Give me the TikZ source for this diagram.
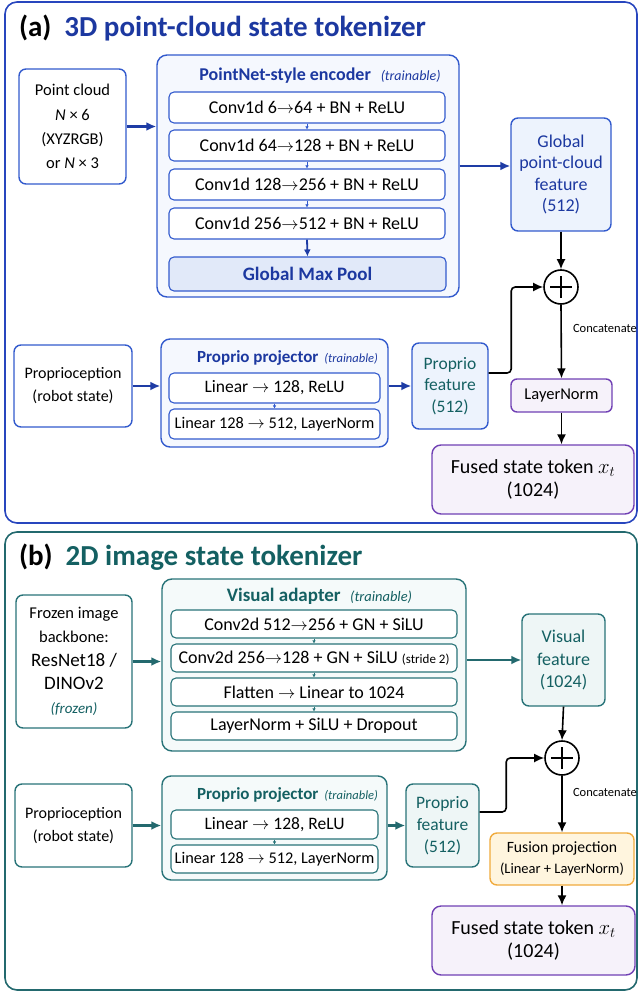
\documentclass[tikz,border=0pt]{standalone}
\usepackage{fontspec}
\setmainfont{Carlito}
\usetikzlibrary{arrows.meta}
\definecolor{bluetx}{RGB}{28,56,160}
\definecolor{bluebd}{RGB}{50,90,205}
\definecolor{bluear}{RGB}{30,60,165}
\definecolor{bluefr}{RGB}{40,70,190}
\definecolor{bluefl}{RGB}{245,248,254}
\definecolor{bluefl2}{RGB}{237,243,253}
\definecolor{bluepl}{RGB}{225,233,249}
\definecolor{tealtx}{RGB}{20,96,98}
\definecolor{tealbd}{RGB}{40,115,120}
\definecolor{tealfr}{RGB}{35,105,110}
\definecolor{tealfl}{RGB}{245,250,250}
\definecolor{tealfl2}{RGB}{238,246,246}
\definecolor{purbd}{RGB}{112,64,180}
\definecolor{purfl}{RGB}{246,242,250}
\definecolor{orbd}{RGB}{240,170,60}
\definecolor{orfl}{RGB}{255,245,222}
\newcommand{\fsz}[2]{\fontsize{#1}{#2}\selectfont}
\begin{document}
\begin{tikzpicture}[x=1pt,y=-1pt,line width=1.4pt,>={Latex[length=10pt,width=9pt]},
font=\fsz{18}{21},
blk/.style={draw,rounded corners=7pt,align=center,inner sep=0pt},
layer/.style={draw,rounded corners=5pt,align=center,inner sep=0pt,line width=1.1pt,fill=white},
tiny/.style={-{Latex[length=3pt,width=3.5pt]},line width=.8pt},
thick arrow/.style={->,line width=2.6pt},
flow/.style={->,line width=1.6pt,black}]
\useasboundingbox (0,0) rectangle (639,992);
% panel frames
\draw[bluefr,line width=1.6pt,rounded corners=12pt] (5,2) rectangle (637,523);
\draw[tealfr,line width=1.6pt,rounded corners=12pt] (5,532) rectangle (637,990);
\node[anchor=base west,font=\fsz{29}{31}\bfseries] (ttla) at (15,37) {(a)\hspace{.45em}\textcolor{bluetx}{3D point-cloud state tokenizer}};
\node[anchor=base west,font=\fsz{29}{31}\bfseries] (ttlb) at (15,565) {(b)\hspace{.45em}\textcolor{tealtx}{2D image state tokenizer}};

% (a) point cloud branch
\node[blk,draw=bluebd,fill=white,minimum width=107pt,minimum height=115pt,font=\fsz{16.5}{24.3}] (pc) at (72.5,126.5) {Point cloud\\\textit{N} × 6\\(XYZRGB)\\or \textit{N} × 3};
\node[blk,draw=bluebd,fill=bluefl,minimum width=302pt,minimum height=242pt,rounded corners=10pt] (enc) at (308,176) {};
\node[font=\fsz{18}{20}\bfseries,text=bluetx] (enct) at (320,76) {PointNet-style encoder\hspace{.55em}{\fsz{14}{16}\mdseries\itshape(trainable)}};
\node[layer,draw=bluebd,minimum width=276pt,minimum height=31pt] (cv1) at (307,107.5) {Conv1d 6$\to$64 + BN + ReLU};
\node[layer,draw=bluebd,minimum width=276pt,minimum height=31pt] (cv2) at (307,145.5) {Conv1d 64$\to$128 + BN + ReLU};
\node[layer,draw=bluebd,minimum width=276pt,minimum height=31pt] (cv3) at (307,184.5) {Conv1d 128$\to$256 + BN + ReLU};
\node[layer,draw=bluebd,minimum width=276pt,minimum height=31pt] (cv4) at (307,223.5) {Conv1d 256$\to$512 + BN + ReLU};
\node[layer,draw=bluebd,fill=bluepl,minimum width=277pt,minimum height=34pt,font=\fsz{19}{21}\bfseries,text=bluetx] (gmp) at (307.5,274) {Global Max Pool};
\draw[tiny,bluebd] (cv1.south) -- (cv2.north);
\draw[tiny,bluebd] (cv2.south) -- (cv3.north);
\draw[tiny,bluebd] (cv3.south) -- (cv4.north);
\draw[->,bluear,line width=1.8pt,>={Latex[length=7pt,width=7pt]}] (cv4.south) -- (gmp.north);
\node[blk,draw=bluebd,fill=bluefl2,text=bluetx,minimum width=100pt,minimum height=113pt,font=\fsz{18}{21.3}] (gfeat) at (561,174.5) {Global\\point-cloud\\feature\\(512)};
\draw[thick arrow,bluear] (pc.east) -- (pc.east -| enc.west);
\draw[thick arrow,bluear] ([yshift=10pt]enc.east) -- ([yshift=10pt]enc.east -| gfeat.west);

% (a) proprio branch
\node[blk,draw=bluebd,fill=white,minimum width=118pt,minimum height=82pt,font=\fsz{16}{23}] (propa) at (73,386) {Proprioception\\(robot state)};
\node[blk,draw=bluebd,fill=bluefl,minimum width=227pt,minimum height=108pt,rounded corners=9pt] (proja) at (274.5,393) {};
\node[font=\fsz{17}{19}\bfseries,text=bluetx] (projat) at (287.5,358) {Proprio projector\hspace{.35em}{\fsz{12.5}{15}\mdseries\itshape(trainable)}};
\node[layer,draw=bluebd,minimum width=211pt,minimum height=30pt,font=\fsz{17.5}{20}] (lina1) at (274.5,388) {Linear $\to$ 128, ReLU};
\node[layer,draw=bluebd,minimum width=211pt,minimum height=30pt,font=\fsz{16.3}{19}] (lina2) at (274.5,424) {Linear 128 $\to$ 512, LayerNorm};
\draw[tiny,bluebd] (lina1.south) -- (lina2.north);
\node[blk,draw=bluebd,fill=bluefl2,text=tealtx,minimum width=76pt,minimum height=86pt,font=\fsz{17.5}{21.5}] (pfeata) at (450,386) {Proprio\\feature\\(512)};
\draw[thick arrow,bluear] (propa.east) -- (propa.east -| proja.west);
\draw[thick arrow,bluear] (proja.east |- pfeata) -- (pfeata.west);

% (a) fusion
\node[circle,draw,line width=1.6pt,minimum size=34pt,inner sep=0pt,fill=white] (suma) at (561,287) {};
\draw[line width=1.8pt] ([xshift=-11pt]suma.center) -- ([xshift=11pt]suma.center) ([yshift=-11pt]suma.center) -- ([yshift=11pt]suma.center);
\draw[flow] (gfeat.south) -- (suma.north);
\draw[flow,rounded corners=4pt] ([yshift=13pt]pfeata.east) -| ([xshift=-32pt]suma.west) -- (suma.west);
\node[anchor=west,font=\fsz{12.5}{14}] (cata) at (569,328) {Concatenate};
\node[blk,draw=purbd,fill=purfl,minimum width=101pt,minimum height=33pt,font=\fsz{16.5}{18},rounded corners=6pt] (lna) at (561.5,395.5) {LayerNorm};
\node[blk,draw=purbd,fill=purfl,minimum width=202pt,minimum height=69pt,font=\fsz{20}{23},rounded corners=9pt] (fuseda) at (533,479.5) {Fused state token $x_t$\\(1024)};
\draw[flow] (suma.south) -- (lna.north);
\draw[flow] (lna.south) -- (lna.south |- fuseda.north);

% (b) image branch
\node[blk,draw=tealbd,fill=white,minimum width=116pt,minimum height=133pt,font=\fsz{16.5}{23.7}] (frz) at (74,661.5) {Frozen image\\backbone:\\{\fsz{19}{23.7}ResNet18 /}\\{\fsz{19}{23.7}DINOv2}\\{\fsz{15}{23.7}\itshape\color{tealtx}(frozen)}};
\node[blk,draw=tealbd,fill=tealfl,minimum width=304pt,minimum height=172pt,rounded corners=10pt] (adp) at (314,665) {};
\node[font=\fsz{19}{21}\bfseries,text=tealtx] (adpt) at (319.5,596) {Visual adapter\hspace{.5em}{\fsz{14.5}{16}\mdseries\itshape(trainable)}};
\node[layer,draw=tealbd,minimum width=286pt,minimum height=28pt] (cva1) at (314,624) {Conv2d 512$\to$256 + GN + SiLU};
\node[layer,draw=tealbd,minimum width=286pt,minimum height=28pt] (cva2) at (314,658) {Conv2d 256$\to$128 + GN + SiLU {\fsz{13}{15}(stride 2)}};
\node[layer,draw=tealbd,minimum width=286pt,minimum height=28pt] (cva3) at (314,692) {Flatten $\to$ Linear to 1024};
\node[layer,draw=tealbd,minimum width=286pt,minimum height=28pt] (cva4) at (314,726) {LayerNorm + SiLU + Dropout};
\draw[tiny,tealbd] (cva1.south) -- (cva2.north);
\draw[tiny,tealbd] (cva2.south) -- (cva3.north);
\draw[tiny,tealbd] (cva3.south) -- (cva4.north);
\node[blk,draw=tealbd,fill=tealfl2,text=tealtx,minimum width=83pt,minimum height=92pt,font=\fsz{18}{22.5}] (vfeat) at (563.5,660) {Visual\\feature\\(1024)};
\draw[thick arrow,tealfr] (frz.east) -- (frz.east -| adp.west);
\draw[thick arrow,tealfr] (adp.east |- vfeat) -- (vfeat.west);

% (b) proprio branch
\node[blk,draw=tealbd,fill=white,minimum width=117pt,minimum height=83pt,font=\fsz{16}{23}] (propb) at (73.5,825.5) {Proprioception\\(robot state)};
\node[blk,draw=tealbd,fill=tealfl,minimum width=225pt,minimum height=104pt,rounded corners=9pt] (projb) at (274.5,828) {};
\node[font=\fsz{17}{19}\bfseries,text=tealtx] (projbt) at (287.5,795) {Proprio projector\hspace{.35em}{\fsz{12.5}{15}\mdseries\itshape(trainable)}};
\node[layer,draw=tealbd,minimum width=207pt,minimum height=29pt,font=\fsz{17.5}{20}] (linb1) at (274.5,824.5) {Linear $\to$ 128, ReLU};
\node[layer,draw=tealbd,minimum width=207pt,minimum height=28pt,font=\fsz{16.3}{19}] (linb2) at (274.5,859) {Linear 128 $\to$ 512, LayerNorm};
\draw[tiny,tealbd] (linb1.south) -- (linb2.north);
\node[blk,draw=tealbd,fill=tealfl2,text=tealtx,minimum width=73pt,minimum height=83pt,font=\fsz{17.5}{22}] (pfeatb) at (442.5,825.5) {Proprio\\feature\\(512)};
\draw[thick arrow,tealfr] (propb.east) -- (propb.east -| projb.west);
\draw[thick arrow,tealfr] (projb.east |- pfeatb) -- (pfeatb.west);

% (b) fusion
\node[circle,draw,line width=1.6pt,minimum size=34pt,inner sep=0pt,fill=white] (sumb) at (562,758) {};
\draw[line width=1.8pt] ([xshift=-11pt]sumb.center) -- ([xshift=11pt]sumb.center) ([yshift=-11pt]sumb.center) -- ([yshift=11pt]sumb.center);
\draw[flow] (vfeat.south) -- (sumb.north);
\draw[flow,rounded corners=4pt] ([yshift=13.5pt]pfeatb.east) -| ([xshift=-38pt]sumb.west) -- (sumb.west);
\node[anchor=west,font=\fsz{12.5}{14}] (catb) at (569,792) {Concatenate};
\node[blk,draw=orbd,fill=orfl,minimum width=144pt,minimum height=52pt,font=\fsz{15.7}{21},rounded corners=7pt] (fus) at (562,859) {Fusion projection\\{\fsz{14.5}{21}(Linear + LayerNorm)}};
\node[blk,draw=purbd,fill=purfl,minimum width=203pt,minimum height=69pt,font=\fsz{20}{23},rounded corners=9pt] (fusedb) at (533.5,940.5) {Fused state token $x_t$\\(1024)};
\draw[flow] (sumb.south) -- (fus.north);
\draw[flow] (fus.south) -- (fus.south |- fusedb.north);
\end{tikzpicture}
\end{document}
